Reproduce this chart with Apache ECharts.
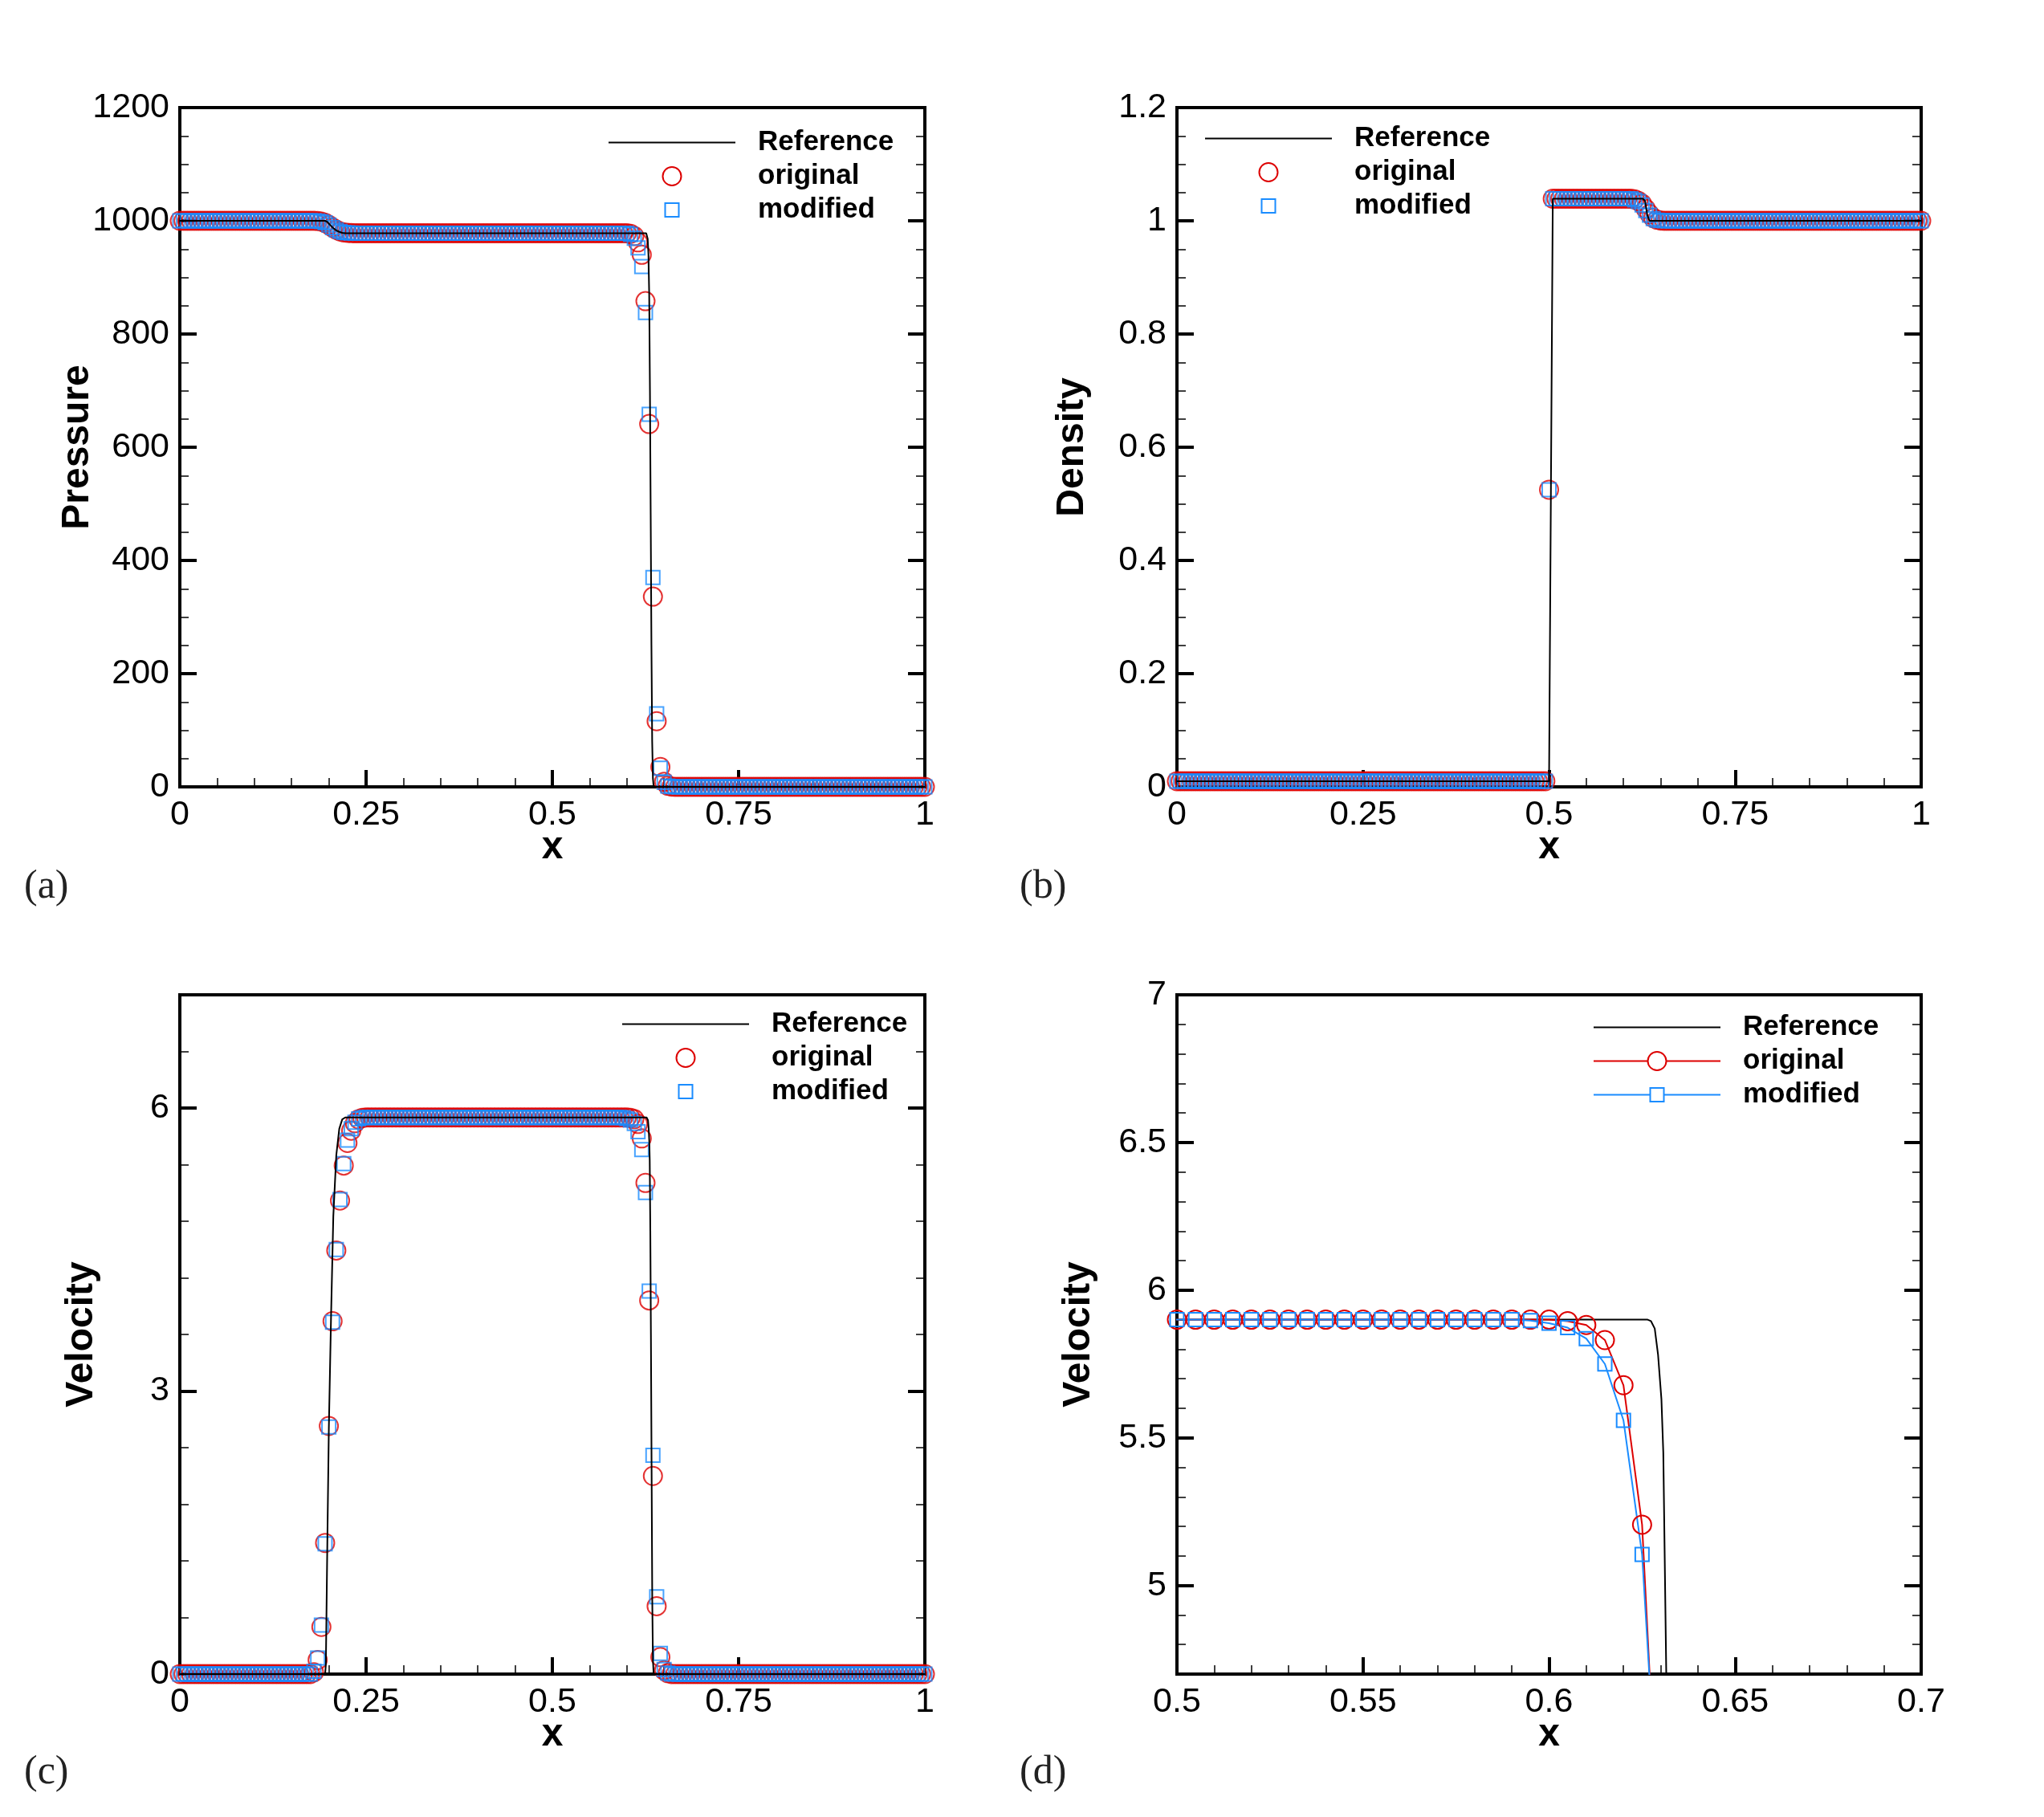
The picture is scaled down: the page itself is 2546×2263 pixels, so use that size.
<!DOCTYPE html>
<html>
<head>
<meta charset="utf-8">
<script src="https://cdn.jsdelivr.net/npm/echarts@6/dist/echarts.min.js"></script>
<style>
  html, body { margin: 0; padding: 0; background: #fff; }
  #chart { width: 2546px; height: 2263px; }
</style>
</head>
<body>
<div id="chart"></div>
<script>
// Mesh: 201 nodes on [0, 1], dx = 0.005
const DX = 0.005;
const X_NODES = Array.from({ length: 201 }, (_, i) => Math.round(i * DX * 1000) / 1000);

// ---- (a) pressure ----
const pOrig = [
  1000, 1000, 1000, 1000, 1000, 1000, 1000, 1000, 1000, 1000,
  1000, 1000, 1000, 1000, 1000, 1000, 1000, 1000, 1000, 1000,
  1000, 1000, 1000, 1000, 1000, 1000, 1000, 1000, 1000, 1000,
  1000, 1000, 1000, 1000, 1000, 1000, 1000, 999.6, 998.6, 996.4,
  992.6, 988, 984, 981.2, 979.6, 978.7, 978.3, 978, 978, 978,
  978, 978, 978, 978, 978, 978, 978, 978, 978, 978,
  978, 978, 978, 978, 978, 978, 978, 978, 978, 978,
  978, 978, 978, 978, 978, 978, 978, 978, 978, 978,
  978, 978, 978, 978, 978, 978, 978, 978, 978, 978,
  978, 978, 978, 978, 978, 978, 978, 978, 978, 978,
  978, 978, 978, 978, 978, 978, 978, 978, 978, 978,
  978, 978, 978, 978, 978, 978, 978, 978, 978, 978,
  978, 977, 973, 962, 940, 858, 641, 336, 116, 35,
  9, 2, 0.4, 0.01, 0.01, 0.01, 0.01, 0.01, 0.01, 0.01,
  0.01, 0.01, 0.01, 0.01, 0.01, 0.01, 0.01, 0.01, 0.01, 0.01,
  0.01, 0.01, 0.01, 0.01, 0.01, 0.01, 0.01, 0.01, 0.01, 0.01,
  0.01, 0.01, 0.01, 0.01, 0.01, 0.01, 0.01, 0.01, 0.01, 0.01,
  0.01, 0.01, 0.01, 0.01, 0.01, 0.01, 0.01, 0.01, 0.01, 0.01,
  0.01, 0.01, 0.01, 0.01, 0.01, 0.01, 0.01, 0.01, 0.01, 0.01,
  0.01, 0.01, 0.01, 0.01, 0.01, 0.01, 0.01, 0.01, 0.01, 0.01,
  0.01
];
const pMod = [
  1000, 1000, 1000, 1000, 1000, 1000, 1000, 1000, 1000, 1000,
  1000, 1000, 1000, 1000, 1000, 1000, 1000, 1000, 1000, 1000,
  1000, 1000, 1000, 1000, 1000, 1000, 1000, 1000, 1000, 1000,
  1000, 1000, 1000, 1000, 1000, 1000, 1000, 999.6, 998.6, 996.4,
  992.6, 988, 984, 981.2, 979.6, 978.7, 978.3, 978, 978, 978,
  978, 978, 978, 978, 978, 978, 978, 978, 978, 978,
  978, 978, 978, 978, 978, 978, 978, 978, 978, 978,
  978, 978, 978, 978, 978, 978, 978, 978, 978, 978,
  978, 978, 978, 978, 978, 978, 978, 978, 978, 978,
  978, 978, 978, 978, 978, 978, 978, 978, 978, 978,
  978, 978, 978, 978, 978, 978, 978, 978, 978, 978,
  978, 978, 978, 978, 978, 978, 978, 978, 978, 978,
  978, 976, 969, 952, 919, 838, 658, 370, 129, 33,
  8, 1.5, 0.3, 0.01, 0.01, 0.01, 0.01, 0.01, 0.01, 0.01,
  0.01, 0.01, 0.01, 0.01, 0.01, 0.01, 0.01, 0.01, 0.01, 0.01,
  0.01, 0.01, 0.01, 0.01, 0.01, 0.01, 0.01, 0.01, 0.01, 0.01,
  0.01, 0.01, 0.01, 0.01, 0.01, 0.01, 0.01, 0.01, 0.01, 0.01,
  0.01, 0.01, 0.01, 0.01, 0.01, 0.01, 0.01, 0.01, 0.01, 0.01,
  0.01, 0.01, 0.01, 0.01, 0.01, 0.01, 0.01, 0.01, 0.01, 0.01,
  0.01, 0.01, 0.01, 0.01, 0.01, 0.01, 0.01, 0.01, 0.01, 0.01,
  0.01
];
const pRefX = [0, 0.195, 0.196, 0.198, 0.2, 0.203, 0.206, 0.21, 0.214, 0.218, 0.222,
  0.626, 0.627, 0.628, 0.629, 0.63, 0.631, 0.632, 0.633, 0.634, 0.635, 0.636, 1];
const pRefY = [1000, 1000, 999.8, 998, 995, 991, 987, 983, 980.5, 978.8, 978,
  978, 976, 968, 940, 870, 700, 480, 250, 80, 15, 0.01, 0.01];

// ---- (b) density ----
const rOrig = [
  0.01, 0.01, 0.01, 0.01, 0.01, 0.01, 0.01, 0.01, 0.01, 0.01,
  0.01, 0.01, 0.01, 0.01, 0.01, 0.01, 0.01, 0.01, 0.01, 0.01,
  0.01, 0.01, 0.01, 0.01, 0.01, 0.01, 0.01, 0.01, 0.01, 0.01,
  0.01, 0.01, 0.01, 0.01, 0.01, 0.01, 0.01, 0.01, 0.01, 0.01,
  0.01, 0.01, 0.01, 0.01, 0.01, 0.01, 0.01, 0.01, 0.01, 0.01,
  0.01, 0.01, 0.01, 0.01, 0.01, 0.01, 0.01, 0.01, 0.01, 0.01,
  0.01, 0.01, 0.01, 0.01, 0.01, 0.01, 0.01, 0.01, 0.01, 0.01,
  0.01, 0.01, 0.01, 0.01, 0.01, 0.01, 0.01, 0.01, 0.01, 0.01,
  0.01, 0.01, 0.01, 0.01, 0.01, 0.01, 0.01, 0.01, 0.01, 0.01,
  0.01, 0.01, 0.01, 0.01, 0.01, 0.01, 0.01, 0.01, 0.01, 0.01,
  0.525, 1.039, 1.039, 1.039, 1.039, 1.039, 1.039, 1.039, 1.039, 1.039,
  1.039, 1.039, 1.039, 1.039, 1.039, 1.039, 1.039, 1.039, 1.039, 1.039,
  1.039, 1.039, 1.039, 1.038, 1.035, 1.03, 1.021, 1.012, 1.005, 1.002,
  1.0005, 1, 1, 1, 1, 1, 1, 1, 1, 1,
  1, 1, 1, 1, 1, 1, 1, 1, 1, 1,
  1, 1, 1, 1, 1, 1, 1, 1, 1, 1,
  1, 1, 1, 1, 1, 1, 1, 1, 1, 1,
  1, 1, 1, 1, 1, 1, 1, 1, 1, 1,
  1, 1, 1, 1, 1, 1, 1, 1, 1, 1,
  1, 1, 1, 1, 1, 1, 1, 1, 1, 1,
  1
];
const rMod = [
  0.01, 0.01, 0.01, 0.01, 0.01, 0.01, 0.01, 0.01, 0.01, 0.01,
  0.01, 0.01, 0.01, 0.01, 0.01, 0.01, 0.01, 0.01, 0.01, 0.01,
  0.01, 0.01, 0.01, 0.01, 0.01, 0.01, 0.01, 0.01, 0.01, 0.01,
  0.01, 0.01, 0.01, 0.01, 0.01, 0.01, 0.01, 0.01, 0.01, 0.01,
  0.01, 0.01, 0.01, 0.01, 0.01, 0.01, 0.01, 0.01, 0.01, 0.01,
  0.01, 0.01, 0.01, 0.01, 0.01, 0.01, 0.01, 0.01, 0.01, 0.01,
  0.01, 0.01, 0.01, 0.01, 0.01, 0.01, 0.01, 0.01, 0.01, 0.01,
  0.01, 0.01, 0.01, 0.01, 0.01, 0.01, 0.01, 0.01, 0.01, 0.01,
  0.01, 0.01, 0.01, 0.01, 0.01, 0.01, 0.01, 0.01, 0.01, 0.01,
  0.01, 0.01, 0.01, 0.01, 0.01, 0.01, 0.01, 0.01, 0.01, 0.01,
  0.525, 1.039, 1.039, 1.039, 1.039, 1.039, 1.039, 1.039, 1.039, 1.039,
  1.039, 1.039, 1.039, 1.039, 1.039, 1.039, 1.039, 1.039, 1.039, 1.039,
  1.039, 1.039, 1.039, 1.037, 1.034, 1.028, 1.018, 1.01, 1.004, 1.001,
  1.0003, 1, 1, 1, 1, 1, 1, 1, 1, 1,
  1, 1, 1, 1, 1, 1, 1, 1, 1, 1,
  1, 1, 1, 1, 1, 1, 1, 1, 1, 1,
  1, 1, 1, 1, 1, 1, 1, 1, 1, 1,
  1, 1, 1, 1, 1, 1, 1, 1, 1, 1,
  1, 1, 1, 1, 1, 1, 1, 1, 1, 1,
  1, 1, 1, 1, 1, 1, 1, 1, 1, 1,
  1
];
const rRefX = [0, 0.5, 0.505, 0.626, 0.629, 0.632, 0.635, 1];
const rRefY = [0.01, 0.01, 1.039, 1.039, 1.035, 1.01, 1, 1];

// ---- (c)/(d) velocity ----
const uOrig = [
  0, 0, 0, 0, 0, 0, 0, 0, 0, 0,
  0, 0, 0, 0, 0, 0, 0, 0, 0, 0,
  0, 0, 0, 0, 0, 0, 0, 0, 0, 0,
  0, 0, 0, 0, 0, 0, 0.02, 0.15, 0.5, 1.39,
  2.63, 3.74, 4.49, 5.02, 5.39, 5.63, 5.76, 5.84, 5.88, 5.895,
  5.9, 5.9, 5.9, 5.9, 5.9, 5.9, 5.9, 5.9, 5.9, 5.9,
  5.9, 5.9, 5.9, 5.9, 5.9, 5.9, 5.9, 5.9, 5.9, 5.9,
  5.9, 5.9, 5.9, 5.9, 5.9, 5.9, 5.9, 5.9, 5.9, 5.9,
  5.9, 5.9, 5.9, 5.9, 5.9, 5.9, 5.9, 5.9, 5.9, 5.9,
  5.9, 5.9, 5.9, 5.9, 5.9, 5.9, 5.9, 5.9, 5.9, 5.9,
  5.9, 5.9, 5.9, 5.9, 5.9, 5.9, 5.9, 5.9, 5.9, 5.9,
  5.9, 5.9, 5.9, 5.9, 5.9, 5.9, 5.9, 5.9, 5.9, 5.9,
  5.9, 5.895, 5.882, 5.831, 5.678, 5.206, 3.96, 2.1, 0.72, 0.18,
  0.04, 0.01, 0, 0, 0, 0, 0, 0, 0, 0,
  0, 0, 0, 0, 0, 0, 0, 0, 0, 0,
  0, 0, 0, 0, 0, 0, 0, 0, 0, 0,
  0, 0, 0, 0, 0, 0, 0, 0, 0, 0,
  0, 0, 0, 0, 0, 0, 0, 0, 0, 0,
  0, 0, 0, 0, 0, 0, 0, 0, 0, 0,
  0, 0, 0, 0, 0, 0, 0, 0, 0, 0,
  0
];
const uMod = [
  0, 0, 0, 0, 0, 0, 0, 0, 0, 0,
  0, 0, 0, 0, 0, 0, 0, 0, 0, 0,
  0, 0, 0, 0, 0, 0, 0, 0, 0, 0,
  0, 0, 0, 0, 0, 0, 0.03, 0.17, 0.52, 1.38,
  2.62, 3.73, 4.5, 5.03, 5.41, 5.66, 5.78, 5.85, 5.885, 5.897,
  5.9, 5.9, 5.9, 5.9, 5.9, 5.9, 5.9, 5.9, 5.9, 5.9,
  5.9, 5.9, 5.9, 5.9, 5.9, 5.9, 5.9, 5.9, 5.9, 5.9,
  5.9, 5.9, 5.9, 5.9, 5.9, 5.9, 5.9, 5.9, 5.9, 5.9,
  5.9, 5.9, 5.9, 5.9, 5.9, 5.9, 5.9, 5.9, 5.9, 5.9,
  5.9, 5.9, 5.9, 5.9, 5.9, 5.9, 5.9, 5.9, 5.9, 5.9,
  5.9, 5.9, 5.9, 5.9, 5.9, 5.9, 5.9, 5.9, 5.9, 5.9,
  5.9, 5.9, 5.9, 5.9, 5.9, 5.9, 5.9, 5.9, 5.9, 5.897,
  5.888, 5.873, 5.836, 5.75, 5.559, 5.105, 4.06, 2.32, 0.82, 0.22,
  0.05, 0.01, 0, 0, 0, 0, 0, 0, 0, 0,
  0, 0, 0, 0, 0, 0, 0, 0, 0, 0,
  0, 0, 0, 0, 0, 0, 0, 0, 0, 0,
  0, 0, 0, 0, 0, 0, 0, 0, 0, 0,
  0, 0, 0, 0, 0, 0, 0, 0, 0, 0,
  0, 0, 0, 0, 0, 0, 0, 0, 0, 0,
  0, 0, 0, 0, 0, 0, 0, 0, 0, 0,
  0
];
const uRefX = [0, 0.195, 0.196, 0.198, 0.2, 0.203, 0.206, 0.21, 0.214, 0.218, 0.222,
  0.6265, 0.6274, 0.6284, 0.6293, 0.6302, 0.6307, 0.631, 0.6315,
  0.6323, 0.6332, 0.6341, 0.635, 0.636, 1];
const uRefY = [0, 0, 0.1, 1.4, 2.6, 3.8, 4.85, 5.5, 5.78, 5.88, 5.9,
  5.9, 5.895, 5.87, 5.78, 5.63, 5.45, 5.17, 4.7,
  3.6, 2.2, 0.8, 0.15, 0, 0];

// ---- axis ticks ----
const xTicksFull = [0, 0.25, 0.5, 0.75, 1];
const xMinorFull = [0.05, 0.1, 0.15, 0.2, 0.3, 0.35, 0.4, 0.45, 0.55, 0.6, 0.65, 0.7, 0.8, 0.85, 0.9, 0.95];
const xTicksZoom = [0.5, 0.55, 0.6, 0.65, 0.7];
const xMinorZoom = [0.51, 0.52, 0.53, 0.54, 0.56, 0.57, 0.58, 0.59, 0.61, 0.62, 0.63, 0.64, 0.66, 0.67, 0.68, 0.69];
const pTicks = [0, 200, 400, 600, 800, 1000, 1200];
const pMinor = [50, 100, 150, 250, 300, 350, 450, 500, 550, 650, 700, 750, 850, 900, 950, 1050, 1100, 1150];
const rTicks = [0, 0.2, 0.4, 0.6, 0.8, 1, 1.2];
const rMinor = [0.05, 0.1, 0.15, 0.25, 0.3, 0.35, 0.45, 0.5, 0.55, 0.65, 0.7, 0.75, 0.85, 0.9, 0.95, 1.05, 1.1, 1.15];
const uTicks = [0, 3, 6];
const uMinor = [0.6, 1.2, 1.8, 2.4, 3.6, 4.2, 4.8, 5.4, 6.6];
const uTicksZoom = [5, 5.5, 6, 6.5, 7];
const uMinorZoom = [4.8, 4.9, 5.1, 5.2, 5.3, 5.4, 5.6, 5.7, 5.8, 5.9, 6.1, 6.2, 6.3, 6.4, 6.6, 6.7, 6.8, 6.9];

const RED = '#dd0000';
const BLUE = '#1a8cff';
const SANS = 'Liberation Sans';

// legend icons: box 181 x 25, line spans 0..158, marker centred at 79
const ICON_LINE = 'path://M0,0M181,25M0,12.5H158';
const ICON_CIRCLE = 'path://M0,0M181,25M90.5,12.5A11.5,11.5,0,1,1,67.5,12.5A11.5,11.5,0,1,1,90.5,12.5Z';
const ICON_SQUARE = 'path://M0,0M181,25M70.5,4H87.5V21H70.5Z';
const ICON_LINE_CIRCLE = 'path://M0,0M181,25M0,12.5H67.5M90.5,12.5H158M90.5,12.5A11.5,11.5,0,1,1,67.5,12.5A11.5,11.5,0,1,1,90.5,12.5Z';
const ICON_LINE_SQUARE = 'path://M0,0M181,25M0,12.5H70.5M87.5,12.5H158M70.5,4H87.5V21H70.5Z';

const panels = [
  { key: 'a', grid: { left: 224, top: 134, width: 928, height: 846 },
    x: [0, 1, xTicksFull, xMinorFull], y: [0, 1200, pTicks, pMinor], yName: 'Pressure', yGap: 103,
    orig: pOrig, mod: pMod, refX: pRefX, refY: pRefY, lines: false,
    legend: { left: 757, top: 160 }, label: { left: 30, top: 1080 } },
  { key: 'b', grid: { left: 1466, top: 134, width: 927, height: 846 },
    x: [0, 1, xTicksFull, xMinorFull], y: [0, 1.2, rTicks, rMinor], yName: 'Density', yGap: 106,
    orig: rOrig, mod: rMod, refX: rRefX, refY: rRefY, lines: false,
    legend: { left: 1500, top: 155 }, label: { left: 1270, top: 1080 } },
  { key: 'c', grid: { left: 224, top: 1239, width: 928, height: 846 },
    x: [0, 1, xTicksFull, xMinorFull], y: [0, 7.2, uTicks, uMinor], yName: 'Velocity', yGap: 98,
    orig: uOrig, mod: uMod, refX: uRefX, refY: uRefY, lines: false,
    legend: { left: 774, top: 1258 }, label: { left: 30, top: 2183 } },
  { key: 'd', grid: { left: 1466, top: 1239, width: 927, height: 846 },
    x: [0.5, 0.7, xTicksZoom, xMinorZoom], y: [4.7, 7, uTicksZoom, uMinorZoom], yName: 'Velocity', yGap: 98,
    orig: uOrig, mod: uMod, refX: uRefX, refY: uRefY, lines: true,
    legend: { left: 1984, top: 1262 }, label: { left: 1270, top: 2183 } },
];

const xAxes = [];
const yAxes = [];

// one main axis (line, major ticks, labels) plus helper axes for minor ticks and the mirror side
const makeAxes = (dim, gridIndex, spec, name, nameGap) => {
  const [min, max, majors, minors] = spec;
  const isX = dim === 'x';
  const base = {
    type: 'value', gridIndex, min, max, silent: true,
    splitLine: { show: false },
    axisLine: { show: false, onZero: false },
    axisLabel: { show: false },
    axisTick: { show: false },
  };
  const line = { show: true, onZero: false, lineStyle: { color: '#000', width: 4, cap: 'square' } };
  const major = { show: true, inside: true, length: 21, customValues: majors, lineStyle: { color: '#000', width: 4 } };
  const minor = { show: true, inside: true, length: 11, customValues: minors, lineStyle: { color: '#000', width: 1.5 } };
  const near = isX ? 'bottom' : 'left';
  const far = isX ? 'top' : 'right';
  const list = [
    Object.assign({}, base, {
      position: near, axisLine: line, axisTick: major,
      axisLabel: {
        show: true, customValues: majors, margin: isX ? 14 : 13,
        fontFamily: SANS, fontSize: 43, color: '#000',
        formatter: (v) => String(v),
      },
      name, nameLocation: 'middle', nameGap, nameMoveOverlap: false,
      nameTextStyle: { fontFamily: SANS, fontWeight: 'bold', fontSize: 48, color: '#000' },
    }),
    Object.assign({}, base, { position: near, axisTick: minor }),
    Object.assign({}, base, { position: far, axisLine: line, axisTick: isX ? { show: false } : major }),
  ];
  if (!isX) list.push(Object.assign({}, base, { position: far, axisTick: minor }));
  const target = isX ? xAxes : yAxes;
  const mainIndex = target.length;
  list.forEach((a) => target.push(a));
  return mainIndex;
};

const series = [];
const legends = [];

panels.forEach((p, gi) => {
  const xi = makeAxes('x', gi, p.x, 'x', 52);
  const yi = makeAxes('y', gi, p.y, p.yName, p.yGap);
  const tag = '|' + p.key;

  series.push({
    type: 'line', name: 'Reference' + tag, xAxisIndex: xi, yAxisIndex: yi,
    data: p.refX.map((x, i) => [x, p.refY[i]]),
    showSymbol: false, symbol: 'none',
    lineStyle: { color: '#000', width: 2 }, itemStyle: { color: '#000' },
  });

  const markerSeries = (name, values, symbol, size, color) => {
    const s = {
      name: name + tag, xAxisIndex: xi, yAxisIndex: yi,
      data: X_NODES.map((x, i) => [x, values[i]]),
      symbol, symbolSize: size,
      itemStyle: { color: 'transparent', borderColor: color, borderWidth: 2 },
    };
    if (p.lines) {
      s.type = 'line';
      s.showSymbol = true;
      s.lineStyle = { color, width: 2 };
    } else {
      s.type = 'scatter';
    }
    return s;
  };
  series.push(markerSeries('original', p.orig, 'circle', 23, RED));
  series.push(markerSeries('modified', p.mod, 'rect', 17, BLUE));

  const item = (name, icon, color) => ({
    name: name + tag, icon,
    itemStyle: { color: 'transparent', borderColor: color, borderWidth: 2, opacity: 1 },
  });
  legends.push({
    left: p.legend.left, top: p.legend.top, orient: 'vertical',
    padding: 0, itemGap: 7, itemWidth: 181, itemHeight: 25, selectedMode: false,
    formatter: (name) => name.split('|')[0],
    textStyle: { fontFamily: SANS, fontWeight: 'bold', fontSize: 35, lineHeight: 35, color: '#000' },
    data: [
      item('Reference', ICON_LINE, '#000'),
      item('original', p.lines ? ICON_LINE_CIRCLE : ICON_CIRCLE, RED),
      item('modified', p.lines ? ICON_LINE_SQUARE : ICON_SQUARE, BLUE),
    ],
  });
});

const chart = echarts.init(document.getElementById('chart'), null, { renderer: 'canvas' });
chart.setOption({
  backgroundColor: '#fff',
  animation: false,
  grid: panels.map((p) => Object.assign({ containLabel: false }, p.grid)),
  xAxis: xAxes,
  yAxis: yAxes,
  legend: legends,
  series,
  graphic: panels.map((p) => ({
    type: 'text', left: p.label.left, top: p.label.top,
    style: { text: '(' + p.key + ')', font: '50px "Liberation Serif"', fill: '#222' },
  })),
});
</script>
</body>
</html>
